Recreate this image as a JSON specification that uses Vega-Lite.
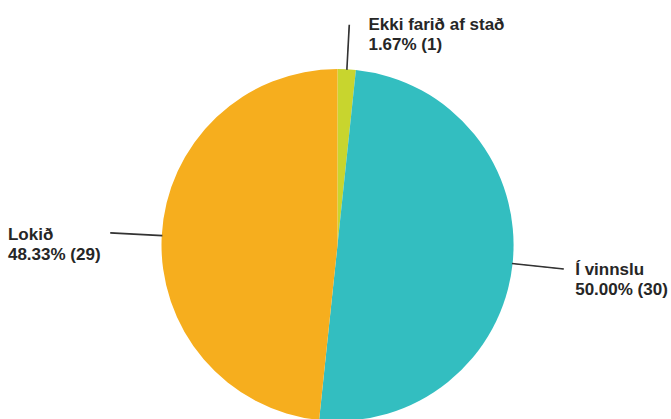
{
  "$schema": "https://vega.github.io/schema/vega-lite/v6.json",
  "width": 675,
  "height": 490,
  "autosize": "none",
  "padding": 0,
  "background": "white",
  "config": {"view": {"stroke": null}},
  "data": {
    "values": [
      {"status": "Ekki farið af stað", "count": 1, "label": "Ekki farið af stað\n1.67% (1)"},
      {"status": "Í vinnslu", "count": 30, "label": "Í vinnslu\n50.00% (30)"},
      {"status": "Lokið", "count": 29, "label": "Lokið\n48.33% (29)"}
    ]
  },
  "transform": [
    {"window": [{"op": "row_number", "as": "idx"}]},
    {"stack": "count", "groupby": [], "sort": [{"field": "idx", "order": "ascending"}], "as": ["t0", "t1"]},
    {"calculate": "(datum.t0 + datum.t1) / 2", "as": "mid"},
    {"calculate": "datum.mid + 0.02", "as": "mid2"}
  ],
  "layer": [
    {
      "mark": {"type": "arc", "outerRadius": 176},
      "encoding": {
        "theta": {"field": "t0", "type": "quantitative", "stack": null, "scale": {"domain": [0, 60]}},
        "theta2": {"field": "t1"},
        "color": {
          "field": "status", "type": "nominal", "legend": null,
          "scale": {"domain": ["Ekki farið af stað", "Í vinnslu", "Lokið"], "range": ["#C8D52E", "#33BEC0", "#F6AE1E"]}
        }
      }
    },
    {
      "transform": [{"filter": "datum.status !== 'Ekki farið af stað'"}],
      "mark": {"type": "arc", "innerRadius": 176, "outerRadius": 227, "stroke": "#333333", "strokeWidth": 1.2, "fill": "#333333"},
      "encoding": {
        "theta": {"field": "mid", "type": "quantitative", "stack": null},
        "theta2": {"field": "mid2"}
      }
    },
    {
      "transform": [{"filter": "datum.status === 'Ekki farið af stað'"}],
      "mark": {"type": "arc", "innerRadius": 176, "outerRadius": 220, "stroke": "#333333", "strokeWidth": 1.2, "fill": "#333333"},
      "encoding": {
        "theta": {"field": "mid", "type": "quantitative", "stack": null},
        "theta2": {"field": "mid2"}
      }
    },
    {
      "transform": [{"filter": "datum.status === 'Ekki farið af stað'"}],
      "mark": {"type": "text", "radius": 228, "dx": 19, "align": "left", "baseline": "top", "font": "Liberation Sans", "fontSize": 17, "fontWeight": "bold", "lineHeight": 20, "lineBreak": "\n", "color": "#262626"},
      "encoding": {
        "theta": {"field": "mid", "type": "quantitative", "stack": null},
        "text": {"field": "label"}
      }
    },
    {
      "transform": [{"filter": "datum.status === 'Í vinnslu'"}],
      "mark": {"type": "text", "radius": 239, "dy": -8, "align": "left", "baseline": "top", "font": "Liberation Sans", "fontSize": 17, "fontWeight": "bold", "lineHeight": 20, "lineBreak": "\n", "color": "#262626"},
      "encoding": {
        "theta": {"field": "mid", "type": "quantitative", "stack": null},
        "text": {"field": "label"}
      }
    },
    {
      "transform": [{"filter": "datum.status === 'Lokið'"}],
      "mark": {"type": "text", "radius": 330, "dy": -1, "align": "left", "baseline": "top", "font": "Liberation Sans", "fontSize": 17, "fontWeight": "bold", "lineHeight": 20, "lineBreak": "\n", "color": "#262626"},
      "encoding": {
        "theta": {"field": "mid", "type": "quantitative", "stack": null},
        "text": {"field": "label"}
      }
    }
  ]
}
